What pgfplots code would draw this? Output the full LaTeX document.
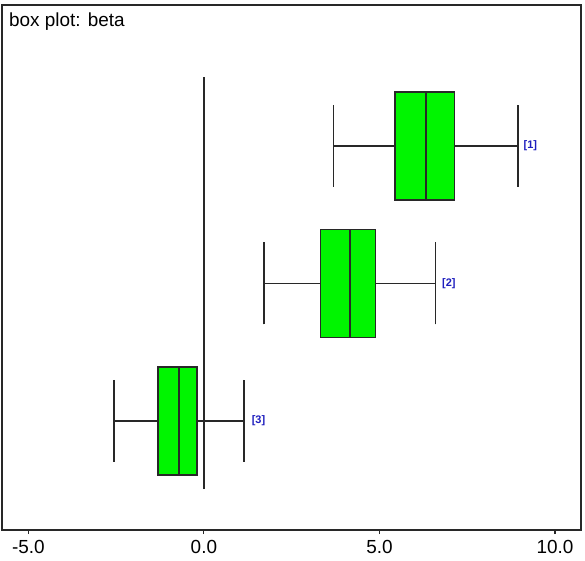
\documentclass[border=0pt]{standalone}
\usepackage{pgfplots}
\pgfplotsset{compat=1.18}
\usepgfplotslibrary{statistics}
\usepackage{fontspec}
\setmainfont{Liberation Sans}
\definecolor{boxgreen}{RGB}{0,245,0}
\definecolor{lblblue}{RGB}{30,30,190}
\definecolor{framegray}{RGB}{40,40,40}
\begin{document}
\begin{tikzpicture}
\begin{axis}[
  scale only axis,
  width=579bp, height=525bp,
  xmin=-5.75, xmax=10.74,
  ymin=0.207, ymax=4.025,
  xtick={-5,0,5,10},
  ytick=\empty,
  xtick pos=bottom,
  tick align=outside,
  major tick length=4bp,
  axis line style={framegray, line width=1.3bp},
  every tick/.style={framegray, line width=1.2bp},
  xticklabel style={font=\fontsize{19}{22}\selectfont, yshift=-3bp},
  /pgf/number format/assume math mode=true,
  xticklabel={\pgfmathprintnumber[fixed,fixed zerofill,precision=1]{\tick}},
  clip=false,
]
\addplot[framegray, line width=1.4bp] coordinates {(0,0.505) (0,3.50)};
% box [1]
\addplot[boxplot prepared={lower whisker=3.69, lower quartile=5.44, median=6.32, upper quartile=7.14, upper whisker=8.94, draw position=3, box extend=0.785, whisker extend=0.596, draw direction=x}, fill=boxgreen, draw=framegray, line width=1.5bp] coordinates {};
% box [2]
\addplot[boxplot prepared={lower whisker=1.71, lower quartile=3.32, median=4.16, upper quartile=4.89, upper whisker=6.59, draw position=2, box extend=0.785, whisker extend=0.596, draw direction=x}, fill=boxgreen, draw=framegray, line width=1.5bp] coordinates {};
% box [3]
\addplot[boxplot prepared={lower whisker=-2.56, lower quartile=-1.31, median=-0.71, upper quartile=-0.20, upper whisker=1.14, draw position=1, box extend=0.785, whisker extend=0.596, draw direction=x}, fill=boxgreen, draw=framegray, line width=1.5bp] coordinates {};
\node[anchor=west, inner sep=0pt, text=lblblue, font=\fontsize{11}{13}\selectfont\bfseries] at (axis cs:9.10,3) {[1]};
\node[anchor=west, inner sep=0pt, text=lblblue, font=\fontsize{11}{13}\selectfont\bfseries] at (axis cs:6.78,2) {[2]};
\node[anchor=west, inner sep=0pt, text=lblblue, font=\fontsize{11}{13}\selectfont\bfseries] at (axis cs:1.36,1) {[3]};
\node[anchor=north west, inner sep=0pt, font=\fontsize{19}{22}\selectfont] at ([xshift=7bp,yshift=-8bp]rel axis cs:0,1) {box plot: beta};
\end{axis}
\pgfresetboundingbox
\path[use as bounding box] ([shift={(-2bp,-31bp)}]current axis.south west) rectangle ([shift={(4bp,5bp)}]current axis.north east);
\end{tikzpicture}
\end{document}
